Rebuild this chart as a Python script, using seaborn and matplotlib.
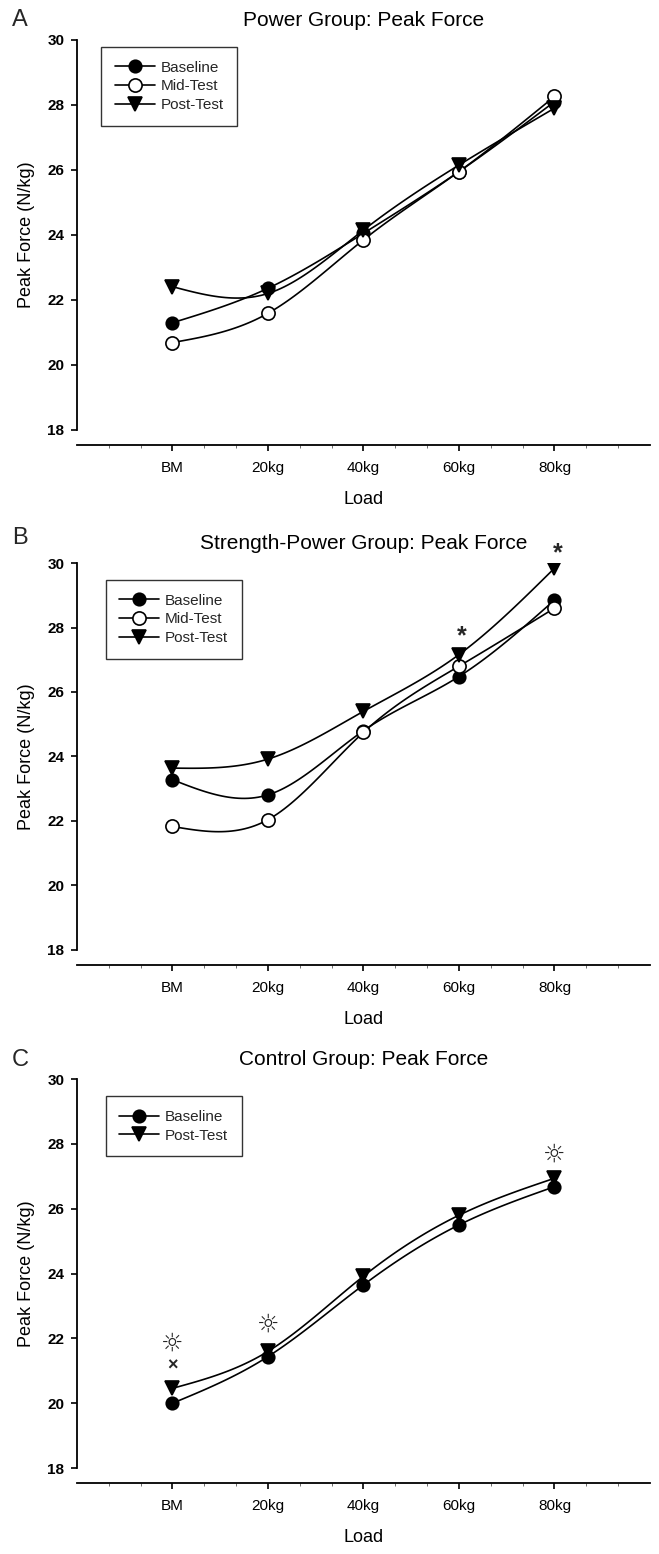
import numpy as np
import matplotlib
matplotlib.use("Agg")
import matplotlib.pyplot as plt
from matplotlib.lines import Line2D
import seaborn as sns

loads = ["BM", "20kg", "40kg", "60kg", "80kg"]
xpos = [1, 2, 3, 4, 5]

# Power group
power_baseline = [21.30, 22.36, 24.05, 25.95, 28.10]
power_mid = [20.69, 21.59, 23.85, 25.95, 28.26]
power_post = [22.41, 22.20, 24.15, 26.15, 27.90]

# Strength-power group
sp_baseline = [23.28, 22.81, 24.80, 26.48, 28.85]
sp_mid = [21.83, 22.04, 24.75, 26.80, 28.60]
sp_post = [23.64, 23.92, 25.40, 27.16, 29.84]

# Control group
ctrl_baseline = [20.00, 21.44, 23.65, 25.50, 26.68]
ctrl_post = [20.46, 21.60, 23.92, 25.80, 26.94]

# significance marks
sp_star_idx = [3, 4]
sp_star_y = [27.72, 30.30]
ctrl_sun_idx = [0, 1, 4]
ctrl_sun_y = [21.85, 22.42, 27.66]
ctrl_cross_idx = [0]
ctrl_cross_y = [21.15]

sns.set_theme(style="ticks")
plt.rcParams['font.family'] = ['Liberation Sans', 'DejaVu Sans']


def natural_spline(x, y, n=30):
    # smooth curve through the points (like the original plotting software)
    x = np.asarray(x, float)
    y = np.asarray(y, float)
    k = len(x)
    h = np.diff(x)
    A = np.zeros((k, k))
    b = np.zeros(k)
    A[0, 0] = A[-1, -1] = 1
    for i in range(1, k - 1):
        A[i, i - 1] = h[i - 1]
        A[i, i] = 2 * (h[i - 1] + h[i])
        A[i, i + 1] = h[i]
        b[i] = 3 * ((y[i + 1] - y[i]) / h[i] - (y[i] - y[i - 1]) / h[i - 1])
    c = np.linalg.solve(A, b)
    xs, ys = [], []
    for i in range(k - 1):
        t = np.linspace(0, h[i], n)
        bb = (y[i + 1] - y[i]) / h[i] - h[i] * (2 * c[i] + c[i + 1]) / 3
        d = (c[i + 1] - c[i]) / (3 * h[i])
        xs.append(x[i] + t)
        ys.append(y[i] + bb * t + c[i] * t ** 2 + d * t ** 3)
    return np.concatenate(xs), np.concatenate(ys)


styles = {
    "Baseline": dict(marker="o", mfc="black", ms=9),
    "Mid-Test": dict(marker="o", mfc="white", ms=9.5),
    "Post-Test": dict(marker="v", mfc="black", ms=10),
}

fig = plt.figure(figsize=(6.59, 15.54), dpi=100)

panels = [
    ("A", "Power Group: Peak Force", [0.1168, 0.7233, 0.8695, 0.251],
     {"Baseline": power_baseline, "Mid-Test": power_mid, "Post-Test": power_post},
     (0.042, 0.982)),
    ("B", "Strength-Power Group: Peak Force", [0.1168, 0.3887, 0.8695, 0.249],
     {"Baseline": sp_baseline, "Mid-Test": sp_mid, "Post-Test": sp_post},
     (0.05, 0.956)),
    ("C", "Control Group: Peak Force", [0.1168, 0.0553, 0.8695, 0.2503],
     {"Baseline": ctrl_baseline, "Post-Test": ctrl_post},
     (0.05, 0.956)),
]

letter_y = [1 - 20 / 1554, 1 - 538 / 1554, 1 - 1060 / 1554]

axes = []
for (letter, title, rect, series, legpos), ly in zip(panels, letter_y):
    ax = fig.add_axes(rect)
    axes.append(ax)
    handles = []
    for name, vals in series.items():
        sx, sy = natural_spline(xpos, vals)
        sns.lineplot(x=sx, y=sy, ax=ax, color="black", linewidth=1.2,
                     estimator=None, sort=False, zorder=2)
        st = styles[name]
        ax.plot(xpos, vals, linestyle="none", marker=st["marker"], ms=st["ms"],
                mfc=st["mfc"], mec="black", mew=1.2, zorder=3)
        handles.append(Line2D([], [], color="black", lw=1.2, marker=st["marker"],
                              ms=st["ms"], mfc=st["mfc"], mec="black", mew=1.2))
    ax.set_xlim(0, 6)
    ax.set_ylim(18, 30)
    ax.set_yticks([18, 20, 22, 24, 26, 28, 30])
    ax.set_xticks(xpos)
    ax.set_xticklabels(loads)
    ax.set_xticks([v / 3 for v in range(1, 18) if v % 3 != 0], minor=True)
    ax.tick_params(axis="both", which="major", labelsize=11, length=4, width=1.2,
                   color="black", labelcolor="black")
    ax.tick_params(axis="x", which="major", pad=7)
    ax.tick_params(axis="y", which="major", pad=5)
    ax.tick_params(axis="x", which="minor", length=2, width=0.6, color="#555555")
    for lab in ax.get_xticklabels() + ax.get_yticklabels():
        lab.set_fontweight("bold")
    ax.spines["top"].set_visible(False)
    ax.spines["right"].set_visible(False)
    ax.spines["bottom"].set_position(("outward", 11))
    for s in ["left", "bottom"]:
        ax.spines[s].set_linewidth(1.3)
        ax.spines[s].set_color("black")
    ax.set_xlabel("Load", fontsize=13, labelpad=12, color="black")
    ax.set_ylabel("Peak Force (N/kg)", fontsize=13, labelpad=9, color="black")
    ax.set_title(title, fontsize=15, pad=10, color="black")
    leg = ax.legend(handles, list(series.keys()), loc="upper left",
                    bbox_to_anchor=legpos, borderaxespad=0, fontsize=11,
                    handlelength=2.6, handletextpad=0.4, labelspacing=0.3,
                    frameon=True, fancybox=False, borderpad=0.9)
    leg.get_frame().set_edgecolor("black")
    leg.get_frame().set_linewidth(1.0)
    fig.text(12 / 659, ly, letter, fontsize=17, ha="left", va="center")

# asterisks on strength-power post-test
for i, yv in zip(sp_star_idx, sp_star_y):
    axes[1].text(xpos[i] + 0.03, yv, "*", fontsize=18, fontweight="bold",
                 ha="center", va="center", clip_on=False)

# control group marks
for i, yv in zip(ctrl_sun_idx, ctrl_sun_y):
    axes[2].text(xpos[i], yv, "\u263c", fontsize=18, ha="center", va="center",
                 family=["DejaVu Sans"])
for i, yv in zip(ctrl_cross_idx, ctrl_cross_y):
    axes[2].text(xpos[i], yv, "\u00d7", fontsize=13, fontweight="bold",
                 ha="center", va="center")

fig.savefig("out.png", dpi=100)
